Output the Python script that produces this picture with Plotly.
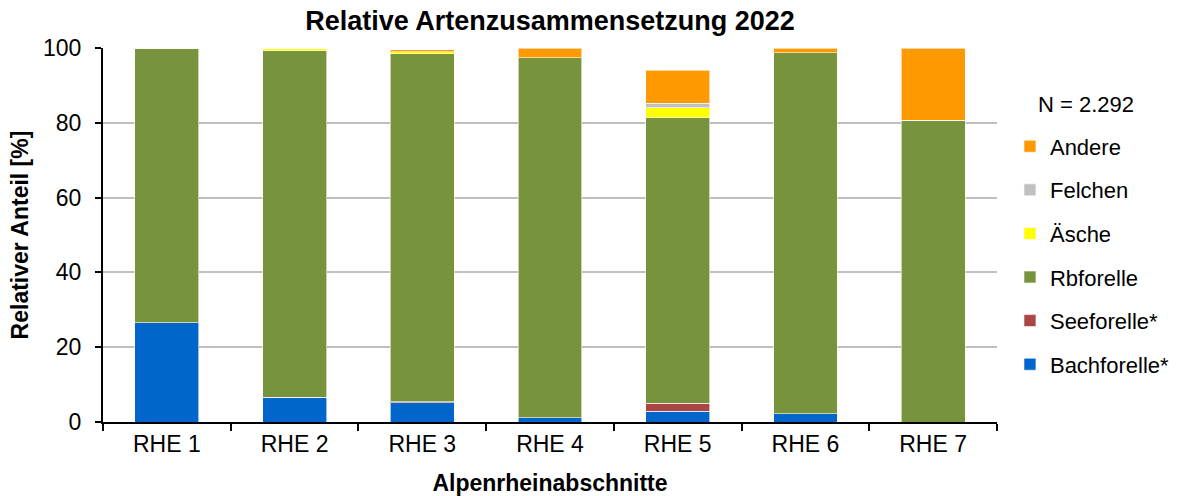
import plotly.graph_objects as go

categories = ["RHE 1", "RHE 2", "RHE 3", "RHE 4", "RHE 5", "RHE 6", "RHE 7"]
bachforelle = [26.5, 6.6, 5.2, 1.2, 2.9, 2.2, 0.0]
seeforelle = [0.0, 0.0, 0.2, 0.0, 2.1, 0.0, 0.0]
rbforelle = [73.5, 92.7, 93.1, 96.2, 76.3, 96.5, 80.7]
aesche = [0.0, 0.5, 0.5, 0.0, 2.7, 0.0, 0.0]
felchen = [0.0, 0.0, 0.0, 0.0, 1.2, 0.0, 0.0]
andere = [0.0, 0.0, 0.5, 2.6, 8.9, 1.3, 19.3]

series = [
    ("Bachforelle*", bachforelle, "#0066CC"),
    ("Seeforelle*", seeforelle, "#A94643"),
    ("Rbforelle", rbforelle, "#77933C"),
    ("Äsche", aesche, "#FFFF00"),
    ("Felchen", felchen, "#C0C0C0"),
    ("Andere", andere, "#FF9900"),
]

FONT = "Liberation Sans, Arial, sans-serif"

fig = go.Figure()
n = len(series)
for i, (name, vals, col) in enumerate(series):
    fig.add_trace(go.Bar(
        x=categories, y=vals, name=name, legendgroup=name, legendrank=1000 + (n - i),
        marker=dict(color=col, line=dict(color="rgba(255,255,255,0.6)", width=1)),
        width=0.5,
    ))

fig.update_layout(
    width=1180, height=496,
    barmode="stack",
    paper_bgcolor="white", plot_bgcolor="white",
    margin=dict(l=103, r=183, t=48, b=74, autoexpand=False),
    font=dict(family=FONT, size=23, color="black"),
    title=dict(text="<b>Relative Artenzusammensetzung 2022</b>", x=0.5, xref="paper",
               xanchor="center", y=0.958, yanchor="middle", yref="container",
               font=dict(size=27, family=FONT, color="black")),
    showlegend=True,
    legend=dict(traceorder="grouped", x=1.0145, xanchor="left", xref="paper",
                y=0.793, yanchor="top", yref="paper", tracegroupgap=12,
                font=dict(size=22, family=FONT), bgcolor="rgba(0,0,0,0)"),
    annotations=[dict(text="N = 2.292", xref="paper", yref="paper", x=1.0436, y=0.8476,
                      xanchor="left", yanchor="middle", showarrow=False,
                      font=dict(size=22, family=FONT, color="black"))],
)

fig.update_xaxes(
    title=dict(text="<b>Alpenrheinabschnitte</b>", font=dict(size=23, family=FONT), standoff=20),
    showline=True, linecolor="black", linewidth=2, automargin=False,
    ticks="outside", tickson="boundaries", ticklen=7, tickcolor="black", tickwidth=2,
    showgrid=False, tickfont=dict(size=23, family=FONT),
)
fig.update_yaxes(
    title=dict(text="<b>Relativer Anteil [%]</b>", font=dict(size=23, family=FONT), standoff=8),
    range=[0, 100], tickvals=[0, 20, 40, 60, 80, 100], automargin=False,
    showline=True, linecolor="black", linewidth=2,
    ticks="outside", ticklen=6, tickcolor="black", tickwidth=2, ticklabelstandoff=9,
    showgrid=True, gridcolor="#BFBFBF", gridwidth=2,
    zeroline=False, tickfont=dict(size=23, family=FONT),
)

fig.write_html("out.html", config={"displayModeBar": False},
               post_script="document.body.style.margin='0';")
